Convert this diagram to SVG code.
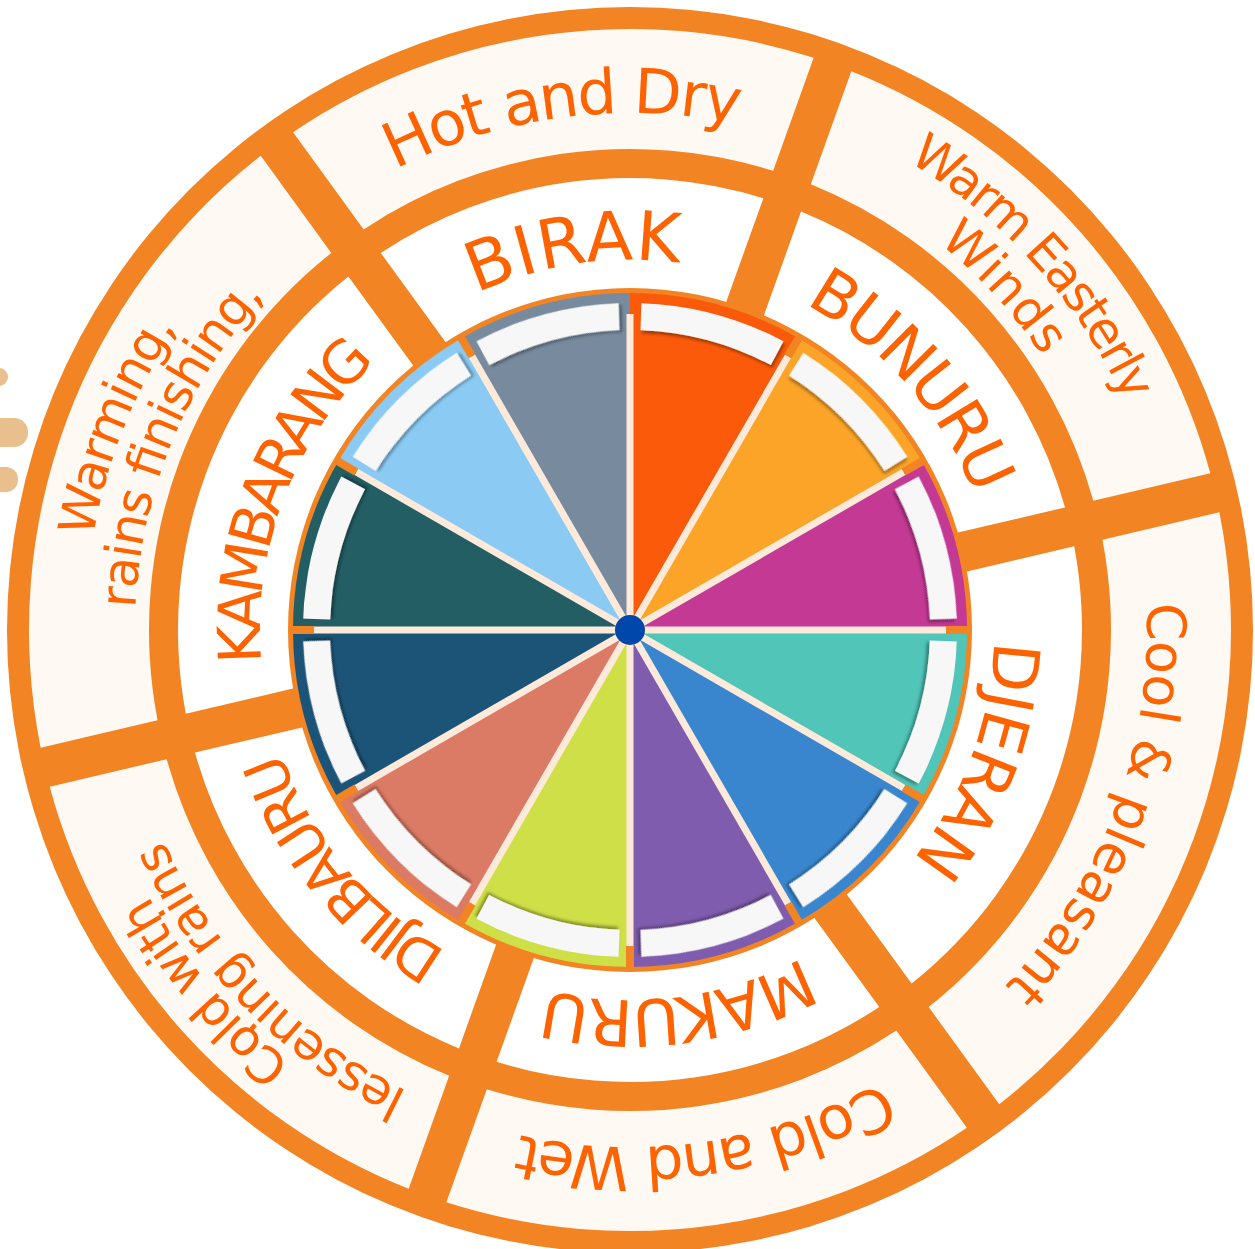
<svg xmlns="http://www.w3.org/2000/svg" xmlns:xlink="http://www.w3.org/1999/xlink" width="1255" height="1249" viewBox="0 0 1255 1249">
<style>
.ring{fill:#F28423}
.op{fill:#FFF9F4}
.mp{fill:#FFFFFF}
.t{font-family:'DejaVu Sans',sans-serif;fill:#FF6300;text-anchor:middle}
.band{fill:#F7F7F7;filter:url(#sh)}
.sep{stroke:#FDEADB;stroke-width:7}
.gap{stroke:#F28423;stroke-width:8}
.deco{fill:#E9BF8D}
</style>
<defs>
<filter id="sh" x="-20%" y="-30%" width="140%" height="170%"><feDropShadow dx="1.5" dy="3" stdDeviation="1.5" flood-color="#000" flood-opacity="0.35"/></filter>
<path id="midA" d="M436.73,221.40 A452,452 0 0 1 823.27,221.40 L771.35,319.66 A341,341 0 0 0 488.65,319.66 Z"/>
<path id="midB" d="M431.76,223.80 A452,452 0 0 1 828.24,223.80 L775.13,321.42 A341,341 0 0 0 484.87,321.42 Z"/>
<path id="midC" d="M396.77,242.82 A452,452 0 0 1 863.23,242.82 L801.73,335.39 A341,341 0 0 0 458.27,335.39 Z"/>
<path id="outA" d="M367.07,89.56 A601,601 0 0 1 892.93,89.56 L836.83,195.72 A481,481 0 0 0 423.17,195.72 Z"/>
<path id="outB" d="M360.48,92.78 A601,601 0 0 1 899.52,92.78 L842.12,198.30 A481,481 0 0 0 417.88,198.30 Z"/>
<path id="outC" d="M314.25,118.62 A601,601 0 0 1 945.75,118.62 L879.30,218.64 A481,481 0 0 0 380.70,218.64 Z"/>
<path id="a517" d="M120.85,540.22 A517,517 0 0 1 1139.15,540.22"/>
<path id="a545" d="M93.28,535.36 A545,545 0 0 1 1166.72,535.36"/>
<path id="a550" d="M88.35,534.49 A550,550 0 0 1 1171.65,534.49"/>
<path id="a495" d="M142.52,544.04 A495,495 0 0 1 1117.48,544.04"/>
<path id="a512" d="M125.78,541.09 A512,512 0 0 1 1134.22,541.09"/>
<path id="a370" d="M265.62,565.75 A370,370 0 0 1 994.38,565.75"/>
<path id="a364" d="M271.53,566.79 A364,364 0 0 1 988.47,566.79"/>
<path id="wedge" d="M630,630 L630,293 A337,337 0 0 1 798.5,338.15 Z"/>
<path id="bandp" d="M641.41,303.20 A327,327 0 0 1 783.52,341.28 L770.84,365.12 A300,300 0 0 0 640.47,330.18 Z"/>
</defs>

<g id="decoration">
<rect class="deco" x="-30" y="368" width="38" height="18" rx="9"/>
<rect class="deco" x="-30" y="418" width="58" height="29" rx="14"/>
<rect class="deco" x="-30" y="467" width="48" height="25" rx="12"/>
</g>

<circle id="frame" class="ring" cx="630" cy="630" r="623"/>

<g id="outer-hot-dry">
<use href="#outA" class="op" transform="rotate(351.85 630 630)"/>
<text class="t" font-size="62" transform="rotate(-7.5 630 630)"><textPath href="#a517" startOffset="50%" textLength="352" lengthAdjust="spacing">Hot and Dry</textPath></text>
</g>
<g id="outer-warm-easterly">
<use href="#outB" class="op" transform="rotate(48.25 630 630)"/>
<text class="t" font-size="50" transform="rotate(48 630 630)"><textPath href="#a545" startOffset="50%" textLength="330" lengthAdjust="spacing">Warm Easterly</textPath></text>
<text class="t" font-size="50" transform="rotate(47.5 630 630)"><textPath href="#a495" startOffset="50%" textLength="155" lengthAdjust="spacing">Winds</textPath></text>
</g>
<g id="outer-cool-pleasant">
<use href="#outC" class="op" transform="rotate(110.4 630 630)"/>
<text class="t" font-size="54" transform="rotate(110.3 630 630)"><textPath href="#a517" startOffset="50%" textLength="420" lengthAdjust="spacing">Cool &amp; pleasant</textPath></text>
</g>
<g id="outer-cold-wet">
<use href="#outA" class="op" transform="rotate(171.85 630 630)"/>
<text class="t" font-size="60" transform="rotate(171.6 630 630)"><textPath href="#a517" startOffset="50%" textLength="374" lengthAdjust="spacing">Cold and Wet</textPath></text>
</g>
<g id="outer-cold-lessening">
<use href="#outB" class="op" transform="rotate(228.25 630 630)"/>
<text class="t" font-size="50" transform="rotate(229.6 630 630)"><textPath href="#a550" startOffset="50%" textLength="222" lengthAdjust="spacing">Cold with</textPath></text>
<text class="t" font-size="50" transform="rotate(225.75 630 630)"><textPath href="#a512" startOffset="50%" textLength="358" lengthAdjust="spacing">lessening rains</textPath></text>
</g>
<g id="outer-warming">
<use href="#outC" class="op" transform="rotate(290.4 630 630)"/>
<text class="t" font-size="50" transform="rotate(291.75 630 630)"><textPath href="#a545" startOffset="50%" textLength="228" lengthAdjust="spacing">Warming,</textPath></text>
<text class="t" font-size="50" transform="rotate(292.5 630 630)"><textPath href="#a495" startOffset="50%" textLength="345" lengthAdjust="spacing">rains finishing,</textPath></text>
</g>

<g id="season-birak">
<use href="#midA" class="mp" transform="rotate(351.85 630 630)"/>
<text class="t" font-size="68" transform="rotate(-8.45 630 630)"><textPath href="#a370" startOffset="50%" textLength="208" lengthAdjust="spacing">BIRAK</textPath></text>
</g>
<g id="season-bunuru">
<use href="#midB" class="mp" transform="rotate(48.25 630 630)"/>
<text class="t" font-size="64" transform="rotate(48.5 630 630)"><textPath href="#a370" startOffset="50%" textLength="262" lengthAdjust="spacing">BUNURU</textPath></text>
</g>
<g id="season-djeran">
<use href="#midC" class="mp" transform="rotate(110.4 630 630)"/>
<text class="t" font-size="64" transform="rotate(110.4 630 630)"><textPath href="#a364" startOffset="50%" textLength="238" lengthAdjust="spacing">DJERAN</textPath></text>
</g>
<g id="season-makuru">
<use href="#midA" class="mp" transform="rotate(171.85 630 630)"/>
<text class="t" font-size="64" transform="rotate(172.7 630 630)"><textPath href="#a370" startOffset="50%" textLength="265" lengthAdjust="spacing">MAKURU</textPath></text>
</g>
<g id="season-djilbauru">
<use href="#midB" class="mp" transform="rotate(228.25 630 630)"/>
<text class="t" font-size="57" transform="rotate(230.3 630 630)"><textPath href="#a370" startOffset="50%" textLength="266" lengthAdjust="spacing">DJILBAURU</textPath></text>
</g>
<g id="season-kambarang">
<use href="#midC" class="mp" transform="rotate(290.4 630 630)"/>
<text class="t" font-size="59" transform="rotate(290.8 630 630)"><textPath href="#a370" startOffset="50%" textLength="334" lengthAdjust="spacing">KAMBARANG</textPath></text>
</g>

<g id="pie">
<circle class="ring" cx="630" cy="630" r="342"/>
<g><use href="#wedge" fill="#FB5A0A"/></g>
<g transform="rotate(30 630 630)"><use href="#wedge" fill="#FBA428"/></g>
<g transform="rotate(60 630 630)"><use href="#wedge" fill="#C43994"/></g>
<g transform="rotate(90 630 630)"><use href="#wedge" fill="#50C5B8"/></g>
<g transform="rotate(120 630 630)"><use href="#wedge" fill="#3A86CE"/></g>
<g transform="rotate(150 630 630)"><use href="#wedge" fill="#7F5CAD"/></g>
<g transform="rotate(180 630 630)"><use href="#wedge" fill="#CFDF47"/></g>
<g transform="rotate(210 630 630)"><use href="#wedge" fill="#DB7A65"/></g>
<g transform="rotate(240 630 630)"><use href="#wedge" fill="#1C5478"/></g>
<g transform="rotate(270 630 630)"><use href="#wedge" fill="#225E64"/></g>
<g transform="rotate(300 630 630)"><use href="#wedge" fill="#8BCBF3"/></g>
<g transform="rotate(330 630 630)"><use href="#wedge" fill="#788B9E"/></g>
<g id="separators">
<line class="sep" x1="630" y1="630" x2="630" y2="314"/>
<line class="sep" x1="630" y1="630" x2="630" y2="314" transform="rotate(30 630 630)"/>
<line class="sep" x1="630" y1="630" x2="630" y2="314" transform="rotate(60 630 630)"/>
<line class="sep" x1="630" y1="630" x2="630" y2="314" transform="rotate(90 630 630)"/>
<line class="sep" x1="630" y1="630" x2="630" y2="314" transform="rotate(120 630 630)"/>
<line class="sep" x1="630" y1="630" x2="630" y2="314" transform="rotate(150 630 630)"/>
<line class="sep" x1="630" y1="630" x2="630" y2="314" transform="rotate(180 630 630)"/>
<line class="sep" x1="630" y1="630" x2="630" y2="314" transform="rotate(210 630 630)"/>
<line class="sep" x1="630" y1="630" x2="630" y2="314" transform="rotate(240 630 630)"/>
<line class="sep" x1="630" y1="630" x2="630" y2="314" transform="rotate(270 630 630)"/>
<line class="sep" x1="630" y1="630" x2="630" y2="314" transform="rotate(300 630 630)"/>
<line class="sep" x1="630" y1="630" x2="630" y2="314" transform="rotate(330 630 630)"/>
<line class="gap" x1="630" y1="314" x2="630" y2="289" transform="rotate(30 630 630)"/>
<line class="gap" x1="630" y1="314" x2="630" y2="289" transform="rotate(60 630 630)"/>
<line class="gap" x1="630" y1="314" x2="630" y2="289" transform="rotate(90 630 630)"/>
<line class="gap" x1="630" y1="314" x2="630" y2="289" transform="rotate(120 630 630)"/>
<line class="gap" x1="630" y1="314" x2="630" y2="289" transform="rotate(150 630 630)"/>
<line class="gap" x1="630" y1="314" x2="630" y2="289" transform="rotate(180 630 630)"/>
<line class="gap" x1="630" y1="314" x2="630" y2="289" transform="rotate(210 630 630)"/>
<line class="gap" x1="630" y1="314" x2="630" y2="289" transform="rotate(240 630 630)"/>
<line class="gap" x1="630" y1="314" x2="630" y2="289" transform="rotate(270 630 630)"/>
<line class="gap" x1="630" y1="314" x2="630" y2="289" transform="rotate(300 630 630)"/>
<line class="gap" x1="630" y1="314" x2="630" y2="289" transform="rotate(330 630 630)"/>
</g>
<g id="bands">
<g><use href="#bandp" class="band"/></g>
<g transform="rotate(30 630 630)"><use href="#bandp" class="band"/></g>
<g transform="rotate(60 630 630)"><use href="#bandp" class="band"/></g>
<g transform="rotate(90 630 630)"><use href="#bandp" class="band"/></g>
<g transform="rotate(120 630 630)"><use href="#bandp" class="band"/></g>
<g transform="rotate(150 630 630)"><use href="#bandp" class="band"/></g>
<g transform="rotate(180 630 630)"><use href="#bandp" class="band"/></g>
<g transform="rotate(210 630 630)"><use href="#bandp" class="band"/></g>
<g transform="rotate(240 630 630)"><use href="#bandp" class="band"/></g>
<g transform="rotate(270 630 630)"><use href="#bandp" class="band"/></g>
<g transform="rotate(300 630 630)"><use href="#bandp" class="band"/></g>
<g transform="rotate(330 630 630)"><use href="#bandp" class="band"/></g>
</g>
<circle id="hub" cx="630" cy="630" r="15" fill="#0047AB"/>
</g>
</svg>
